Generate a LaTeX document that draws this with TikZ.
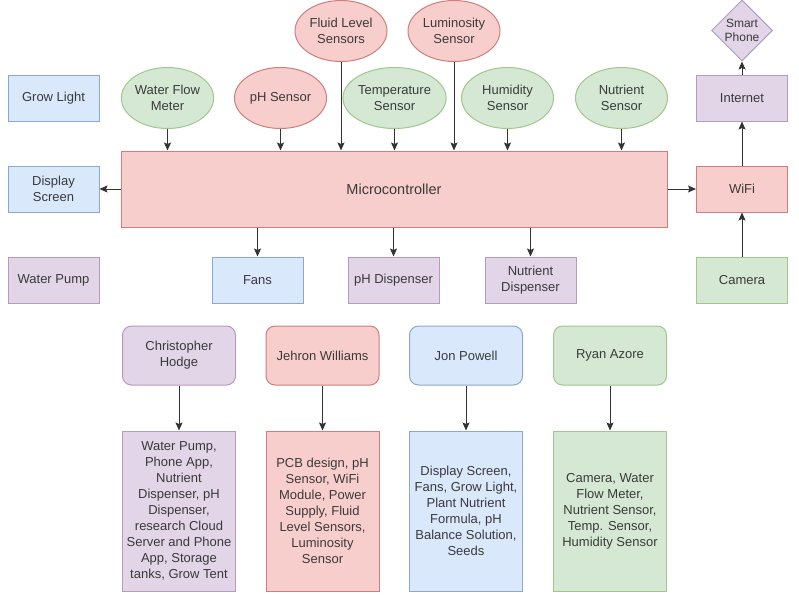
\documentclass[tikz,border=0pt]{standalone}
\usepackage{fontspec}
\setmainfont{Liberation Sans}
\usetikzlibrary{shapes.geometric,arrows.meta}
\definecolor{txt}{HTML}{3A3A3A}
\definecolor{ln}{HTML}{333333}
\definecolor{bF}{HTML}{DAE8FC}\definecolor{bS}{HTML}{8AA8D2}
\definecolor{rF}{HTML}{F8CECC}\definecolor{rS}{HTML}{CC7F7C}
\definecolor{gF}{HTML}{D5E8D4}\definecolor{gS}{HTML}{9FC88A}
\definecolor{pF}{HTML}{E1D5E7}\definecolor{pS}{HTML}{B49CC1}
\tikzset{
  base/.style={font=\fontsize{13}{16}\selectfont, text=txt, align=center, inner sep=0pt, line width=1pt},
  blue/.style={fill=bF, draw=bS},
  red/.style={fill=rF, draw=rS},
  green/.style={fill=gF, draw=gS},
  purple/.style={fill=pF, draw=pS},
  rbox/.style={base, rectangle, minimum width=91pt, minimum height=46pt},
  ell/.style={base, ellipse, minimum width=92pt, minimum height=61pt},
  person/.style={base, rectangle, rounded corners=9pt, minimum width=113pt, minimum height=59pt},
  content/.style={base, rectangle, minimum width=113pt, minimum height=160pt},
  arr/.style={draw=ln, line width=1pt, -{Stealth[length=8pt,width=7pt,inset=1.5pt]}}
}
\begin{document}
\begin{tikzpicture}[x=1pt,y=-1pt]
\useasboundingbox (0,0) rectangle (799,608);
% left column
\node[rbox,blue] (grow) at (53.5,98) {Grow Light};
\node[rbox,blue] (disp) at (53.5,189) {Display\\Screen};
\node[rbox,purple] (pump) at (53.5,280) {Water Pump};
% microcontroller
\node[base,red,rectangle,minimum width=546pt,minimum height=76pt,font=\fontsize{14.5}{17}\selectfont] (mc) at (394,189) {Microcontroller};
% sensors
\node[ell,green] (wfm) at (167.5,98) {Water Flow\\Meter};
\node[ell,red] (ph) at (280.5,98) {pH Sensor};
\node[ell,red] (fluid) at (341,31) {Fluid Level\\Sensors};
\node[ell,green] (temp) at (394.5,98) {Temperature\\Sensor};
\node[ell,red] (lum) at (454,31) {Luminosity\\Sensor};
\node[ell,green] (hum) at (507.5,98) {Humidity\\Sensor};
\node[ell,green] (nut) at (621.5,98) {Nutrient\\Sensor};
% actuators
\node[rbox,blue] (fans) at (257.5,280) {Fans};
\node[rbox,purple] (phd) at (393.5,280) {pH Dispenser};
\node[rbox,purple] (nd) at (530.5,280) {Nutrient\\Dispenser};
% right column
\node[base,purple,diamond,minimum width=61pt,minimum height=61pt,font=\fontsize{12}{14}\selectfont] (phone) at (742,30.5) {Smart\\Phone};
\node[rbox,purple] (inet) at (742,98) {Internet};
\node[rbox,red] (wifi) at (742,189) {WiFi};
\node[rbox,green] (cam) at (742,280) {Camera};
% sensor arrows
\foreach \s in {wfm,ph,fluid,temp,lum,hum,nut}{
  \draw[arr] (\s.south) -- (\s.south |- mc.north);
}
\draw[arr] (mc.west) -- (disp.east);
\draw[arr] (mc.east) -- (wifi.west);
\draw[arr] (cam.north) -- (wifi.south);
\draw[arr] (wifi.north) -- (inet.south);
\draw[arr] (inet.north) -- (phone.south);
\draw[arr] (fans.north |- mc.south) -- (fans.north);
\draw[arr] (phd.north |- mc.south) -- (phd.north);
\draw[arr] (nd.north |- mc.south) -- (nd.north);
% team
\node[person,purple] (ch) at (179,355.5) {Christopher\\Hodge};
\node[person,red] (jw) at (322.5,355.5) {Jehron Williams};
\node[person,blue] (jp) at (466,355.5) {Jon Powell};
\node[person,green] (ra) at (610,355.5) {Ryan Azore};
\node[content,purple] (chc) at (179,511) {Water Pump,\\Phone App,\\Nutrient\\Dispenser, pH\\Dispenser,\\research Cloud\\Server and Phone\\App, Storage\\tanks, Grow Tent};
\node[content,red] (jwc) at (322.5,511) {PCB design, pH\\Sensor, WiFi\\Module, Power\\Supply, Fluid\\Level Sensors,\\Luminosity\\Sensor};
\node[content,blue] (jpc) at (466,511) {Display Screen,\\Fans, Grow Light,\\Plant Nutrient\\Formula, pH\\Balance Solution,\\Seeds};
\node[content,green] (rac) at (610,511) {Camera, Water\\Flow Meter,\\Nutrient Sensor,\\Temp. Sensor,\\Humidity Sensor};
\draw[arr] (ch) -- (chc);
\draw[arr] (jw) -- (jwc);
\draw[arr] (jp) -- (jpc);
\draw[arr] (ra) -- (rac);
\end{tikzpicture}
\end{document}
